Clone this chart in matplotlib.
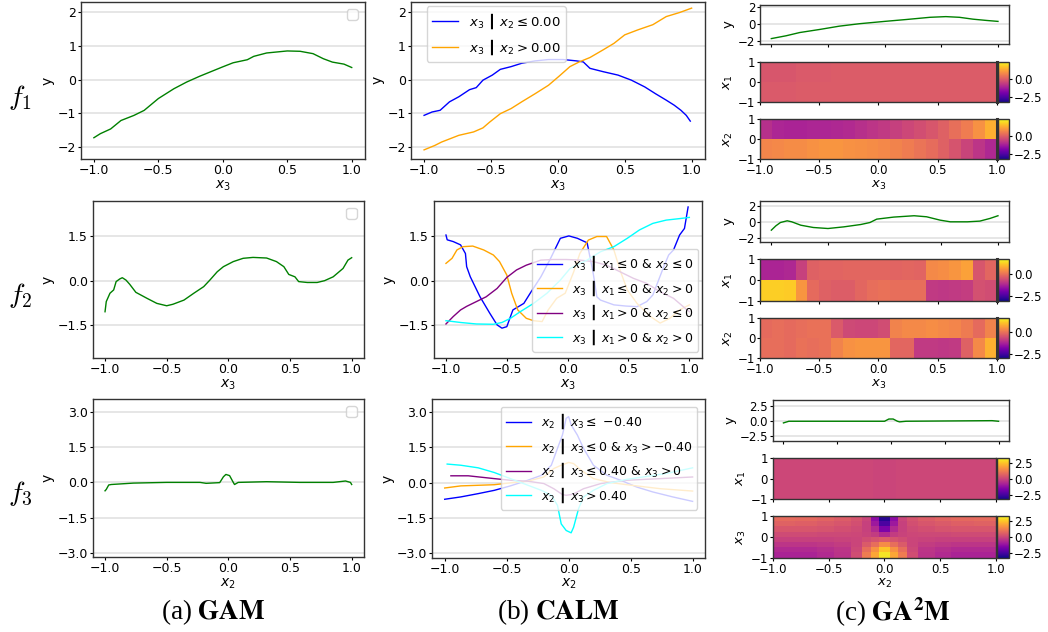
import numpy as np
import matplotlib.pyplot as plt

W, H = 1048, 632

# ---------------- row f1 (feature x3) ----------------
gam1_x = [-1.0, -0.95, -0.87, -0.79, -0.69, -0.61, -0.5, -0.38, -0.28, -0.18, 0.0, 0.08,
          0.19, 0.24, 0.34, 0.5, 0.6, 0.7, 0.78, 0.85, 0.94, 1.0]
gam1_y = [-1.72, -1.6, -1.46, -1.21, -1.06, -0.91, -0.56, -0.27, -0.07, 0.1, 0.38, 0.5,
          0.59, 0.69, 0.79, 0.85, 0.84, 0.77, 0.62, 0.52, 0.46, 0.36]

calm1_blue_x = [-1.0, -0.94, -0.88, -0.81, -0.74, -0.66, -0.61, -0.56, -0.49, -0.43, -0.35, -0.27,
                -0.17, -0.07, 0.04, 0.14, 0.19, 0.24, 0.34, 0.45, 0.55, 0.65, 0.73, 0.81, 0.87,
                0.92, 0.96, 0.99]
calm1_blue_y = [-1.06, -0.96, -0.91, -0.66, -0.51, -0.3, -0.24, -0.02, 0.13, 0.3, 0.38, 0.48,
                0.55, 0.59, 0.59, 0.55, 0.52, 0.33, 0.23, 0.13, -0.02, -0.22, -0.42, -0.61, -0.76,
                -0.91, -1.06, -1.23]
calm1_orange_x = [-1.0, -0.92, -0.87, -0.74, -0.63, -0.56, -0.51, -0.43, -0.35, -0.27, -0.17, -0.07,
                  0.01, 0.09, 0.16, 0.24, 0.34, 0.42, 0.5, 0.6, 0.71, 0.81, 0.91, 1.0]
calm1_orange_y = [-2.08, -1.95, -1.85, -1.65, -1.55, -1.43, -1.26, -1.01, -0.86, -0.66, -0.42, -0.17,
                  0.1, 0.38, 0.52, 0.65, 0.88, 1.07, 1.32, 1.47, 1.62, 1.86, 1.98, 2.11]

ga2m1_x = [-1.0, -0.87, -0.75, -0.57, -0.4, -0.22, 0.0, 0.19, 0.4, 0.54, 0.66, 0.78, 0.9, 1.0]
ga2m1_y = [-1.68, -1.35, -0.97, -0.6, -0.22, 0.07, 0.34, 0.56, 0.82, 0.9, 0.82, 0.6, 0.45, 0.34]

# heatmaps: rows from bottom (-1) to top (+1), 20 equal columns from -1 to 1
hm1_x1 = [[-0.05, -0.05, -0.05, 0.0, 0.0, 0.0, 0.0, 0.0, 0.0, 0.0,
           0.0, 0.0, 0.0, 0.0, 0.0, 0.0, 0.0, 0.0, 0.0, 0.0],
          [-0.1, -0.1, -0.1, -0.05, -0.05, -0.05, 0.0, 0.0, 0.0, 0.0,
           0.0, 0.0, 0.0, 0.0, 0.0, 0.0, 0.0, 0.0, 0.0, 0.0]]
hm1_x2 = [[0.75, 0.8, 0.85, 0.85, 0.95, 1.0, 1.0, 0.95, 0.9, 0.85,
           0.8, 0.7, 0.6, 0.45, 0.3, 0.1, -0.15, -0.45, -0.75, -1.0],
          [-0.85, -1.05, -1.1, -1.1, -1.05, -1.05, -1.0, -0.95, -0.85, -0.75,
           -0.65, -0.55, -0.4, -0.25, -0.1, 0.1, 0.35, 0.6, 0.95, 1.4]]

# ---------------- row f2 (feature x3) ----------------
gam2_x = [-1.0, -0.99, -0.96, -0.93, -0.91, -0.88, -0.86, -0.83, -0.8, -0.75, -0.66, -0.58,
          -0.5, -0.45, -0.36, -0.28, -0.2, -0.15, -0.09, -0.04, 0.04, 0.12, 0.2, 0.31, 0.39,
          0.45, 0.49, 0.54, 0.57, 0.64, 0.72, 0.78, 0.85, 0.93, 0.97, 1.0]
gam2_y = [-1.04, -0.7, -0.42, -0.31, -0.03, 0.06, 0.1, 0.02, -0.12, -0.39, -0.59, -0.76,
          -0.84, -0.79, -0.65, -0.42, -0.2, 0.02, 0.3, 0.47, 0.64, 0.75, 0.78, 0.76, 0.64,
          0.47, 0.21, 0.13, -0.03, -0.06, -0.06, 0.0, 0.13, 0.41, 0.69, 0.77]

calm2_blue_x = [-1.0, -0.99, -0.94, -0.88, -0.84, -0.83, -0.8, -0.72, -0.64, -0.58, -0.54, -0.5,
                -0.45, -0.36, -0.3, -0.22, -0.14, -0.06, 0.01, 0.08, 0.16, 0.21, 0.24, 0.27,
                0.38, 0.48, 0.57, 0.65, 0.7, 0.79, 0.83, 0.87, 0.92, 0.96, 0.99]
calm2_blue_y = [1.53, 1.37, 1.31, 1.2, 0.91, 0.47, 0.13, -0.54, -1.09, -1.48, -1.59, -1.54,
                -0.98, -0.76, -0.37, 0.13, 0.75, 1.42, 1.5, 1.42, 1.27, 0.25, -0.54, -0.65,
                -0.81, -0.85, -0.87, -0.7, -0.48, 0.47, 0.86, 1.03, 1.53, 1.75, 2.47]
calm2_orange_x = [-1.0, -0.95, -0.91, -0.86, -0.78, -0.69, -0.61, -0.56, -0.5, -0.46, -0.41, -0.34,
                  -0.28, -0.21, -0.16, -0.09, -0.02, 0.05, 0.1, 0.17, 0.24, 0.32, 0.38, 0.43,
                  0.49, 0.57, 0.68, 0.76, 0.84, 0.92, 1.0]
calm2_orange_y = [0.58, 0.75, 1.03, 1.14, 1.16, 1.03, 0.86, 0.64, 0.19, -0.42, -0.98, -1.26,
                  -1.34, -1.37, -0.98, -0.59, -0.42, 0.3, 0.91, 1.36, 1.48, 1.48, 1.03, 0.36,
                  -0.31, -0.76, -1.2, -1.42, -1.26, -0.98, -0.81]
calm2_purple_x = [-1.0, -0.94, -0.88, -0.83, -0.75, -0.67, -0.58, -0.5, -0.42, -0.34, -0.22, -0.12,
                  -0.01, 0.1, 0.21, 0.32, 0.43, 0.54, 0.65, 0.76, 0.87, 0.95, 1.0]
calm2_purple_y = [-1.45, -1.2, -0.98, -0.86, -0.7, -0.54, -0.26, 0.11, 0.36, 0.52, 0.69, 0.71,
                  0.71, 0.69, 0.64, 0.52, 0.3, 0.08, -0.09, -0.37, -0.59, -0.87, -1.04]
calm2_cyan_x = [-1.0, -0.88, -0.75, -0.61, -0.54, -0.47, -0.39, -0.28, -0.17, -0.06, 0.02, 0.16,
                0.27, 0.38, 0.49, 0.59, 0.7, 0.81, 0.92, 1.0]
calm2_cyan_y = [-1.34, -1.4, -1.45, -1.46, -1.4, -1.26, -1.04, -0.76, -0.42, 0.02, 0.41, 0.69,
                0.97, 1.14, 1.42, 1.7, 1.92, 2.03, 2.08, 2.12]

ga2m2_x = [-1.0, -0.96, -0.92, -0.86, -0.82, -0.74, -0.63, -0.5, -0.36, -0.21, -0.13, -0.07,
           0.08, 0.26, 0.37, 0.49, 0.58, 0.73, 0.84, 0.93, 1.0]
ga2m2_y = [-1.06, -0.51, -0.09, 0.13, 0.0, -0.43, -0.72, -0.85, -0.64, -0.34, -0.09, 0.34,
           0.6, 0.77, 0.64, 0.21, 0.0, 0.0, 0.09, 0.43, 0.77]

hm2_x1 = [[1.15, 1.15, 1.1, 0.45, -0.15, -0.3, -0.35, -0.35, -0.2, -0.1,
           -0.05, -0.1, -0.1, -0.1, -0.9, -0.95, -0.9, -0.85, -0.55, -0.6],
          [-1.25, -1.25, -1.2, -0.8, -0.3, -0.25, -0.25, -0.2, -0.2, -0.2,
           -0.2, -0.25, -0.2, -0.25, 0.3, 0.35, 0.45, 0.6, -0.45, -0.2]]
hm2_x2 = [[-0.1, -0.1, -0.15, -0.05, -0.1, -0.05, 0.2, 0.4, 0.45, 0.45,
           0.45, -0.2, -0.2, -0.9, -0.9, -0.95, -0.9, -0.3, 0.3, 0.8],
          [-0.15, -0.1, -0.15, -0.1, -0.05, -0.05, -0.4, -0.65, -0.7, -0.7,
           -0.6, 0.2, 0.3, 0.3, 0.35, 0.3, 0.25, 0.1, -0.15, 0.2]]

# ---------------- row f3 (feature x2) ----------------
gam3_x = [-1.0, -0.99, -0.97, -0.95, -0.77, -0.5, -0.23, -0.18, -0.07, -0.04, -0.02, 0.01,
          0.04, 0.05, 0.08, 0.31, 0.58, 0.85, 0.95, 0.99, 1.0]
gam3_y = [-0.36, -0.3, -0.11, -0.09, -0.03, 0.0, 0.0, -0.04, -0.01, 0.24, 0.34, 0.29,
          0.0, -0.09, 0.0, 0.03, 0.0, 0.0, 0.06, 0.0, -0.09]

calm3_blue_x = [-1.0, -0.87, -0.73, -0.6, -0.47, -0.33, -0.22, -0.14, -0.09, -0.05, -0.02, 0.0,
                0.02, 0.07, 0.12, 0.2, 0.31, 0.42, 0.55, 0.68, 0.84, 1.0]
calm3_blue_y = [-0.71, -0.61, -0.47, -0.33, -0.14, 0.1, 0.31, 0.74, 1.46, 2.03, 2.74, 2.81,
                2.46, 2.03, 1.46, 0.74, 0.31, 0.1, -0.19, -0.4, -0.61, -0.8]
calm3_orange_x = [-1.0, -0.87, -0.6, -0.47, -0.33, -0.2, -0.12, -0.06, 0.0, 0.04, 0.1, 0.2,
                  0.34, 0.47, 0.74, 1.0]
calm3_orange_y = [-0.23, -0.14, -0.09, -0.01, 0.06, 0.24, 0.6, 0.74, 0.86, 0.81, 0.53, 0.17,
                  0.0, -0.09, -0.26, -0.36]
calm3_purple_x = [-0.95, -0.81, -0.6, -0.47, -0.33, -0.2, -0.12, -0.05, -0.02, 0.02, 0.06, 0.12,
                  0.26, 0.47, 0.74, 1.0]
calm3_purple_y = [0.29, 0.29, 0.17, 0.1, 0.06, -0.04, -0.26, -0.51, -0.54, -0.51, -0.43, -0.26,
                  -0.04, 0.1, 0.17, 0.24]
calm3_cyan_x = [-0.98, -0.87, -0.73, -0.6, -0.47, -0.33, -0.22, -0.14, -0.09, -0.06, -0.02, 0.02,
                0.04, 0.08, 0.12, 0.2, 0.31, 0.47, 0.6, 0.79, 1.0]
calm3_cyan_y = [0.79, 0.74, 0.63, 0.43, 0.17, -0.11, -0.33, -0.54, -0.97, -1.76, -2.04, -2.14,
                -1.9, -1.11, -0.61, -0.33, -0.04, 0.14, 0.24, 0.39, 0.63]

ga2m3_x = [-1.0, -0.95, -0.53, -0.06, -0.02, 0.02, 0.06, 0.08, 0.14, 0.94, 1.0]
ga2m3_y = [-0.27, 0.0, 0.0, 0.0, 0.37, 0.37, 0.0, -0.1, 0.0, 0.1, 0.0]

hm3_x1 = [[0.05, 0.05, 0.05, 0.05, 0.05, 0.05, 0.05, 0.05, 0.05, 0.0,
           0.0, 0.05, 0.05, 0.05, 0.05, 0.05, 0.05, 0.05, 0.05, 0.05],
          [0.05, 0.05, 0.05, 0.05, 0.05, 0.05, 0.05, 0.05, 0.05, 0.0,
           0.0, 0.05, 0.05, 0.05, 0.05, 0.05, 0.05, 0.05, 0.05, 0.05]]
# x2 bin edges for the x2-x3 interaction (narrow bins around 0)
hm3_x3_xedges = [-1.0, -0.8, -0.6, -0.45, -0.3, -0.2, -0.12, -0.05, 0.05, 0.12, 0.2,
                 0.3, 0.45, 0.6, 0.8, 1.0]
hm3_x3 = [[-0.75, -0.75, -0.6, -0.4, 0.2, 1.2, 2.0, 3.0, 2.0, 1.2, 0.2, -0.4, -0.6, -0.75, -0.75],
          [-0.6, -0.6, -0.5, -0.35, 0.1, 0.9, 1.6, 2.5, 1.6, 0.9, 0.1, -0.35, -0.5, -0.6, -0.6],
          [-0.35, -0.35, -0.3, -0.2, 0.0, 0.5, 0.9, 1.5, 0.9, 0.5, 0.0, -0.2, -0.3, -0.35, -0.35],
          [-0.1, -0.1, -0.1, -0.05, 0.0, 0.2, 0.35, 0.5, 0.35, 0.2, 0.0, -0.05, -0.1, -0.1, -0.1],
          [0.15, 0.15, 0.1, 0.1, 0.05, -0.05, -0.2, -0.6, -0.2, -0.05, 0.05, 0.1, 0.1, 0.15, 0.15],
          [0.4, 0.4, 0.35, 0.25, 0.15, -0.1, -0.6, -1.6, -0.6, -0.1, 0.15, 0.25, 0.35, 0.4, 0.4],
          [0.65, 0.6, 0.5, 0.4, 0.25, -0.1, -1.0, -2.4, -1.0, -0.1, 0.25, 0.4, 0.5, 0.6, 0.65],
          [0.85, 0.8, 0.7, 0.55, 0.35, 0.0, -1.3, -2.9, -1.3, 0.0, 0.35, 0.55, 0.7, 0.8, 0.85]]

xticks = [-1.0, -0.5, 0.0, 0.5, 1.0]
ylims = [(-2.35, 2.3), (-2.6, 2.68), (-3.2, 3.55)]
yticks_main = [[-2, -1, 0, 1, 2], [-1.5, 0, 1.5], [-3, -1.5, 0, 1.5, 3]]
yticks_small = [[-2, 0, 2], [-2, 0, 2], [-2.5, 0, 2.5]]
feat = ['$x_3$', '$x_3$', '$x_2$']
cranges = [(-3.2, 2.4), (-3.0, 1.6), (-3.2, 3.3)]

plt.rcParams['axes.edgecolor'] = '#333333'
plt.rcParams['axes.linewidth'] = 1.0
plt.rcParams['xtick.major.size'] = 2
plt.rcParams['ytick.major.size'] = 2
plt.rcParams['xtick.major.pad'] = 1.5
plt.rcParams['ytick.major.pad'] = 1.5

fig = plt.figure(figsize=(W / 100, H / 100), dpi=100)


def px_axes(l, t, r, b):
    return fig.add_axes([l / W, 1 - b / H, (r - l) / W, (b - t) / H])


def line_axes(ax, row, fs=9, small=False):
    ax.set_xlim(-1.1, 1.1)
    ax.set_ylim(*ylims[row])
    ax.set_xticks(xticks)
    ax.set_yticks(yticks_small[row] if small else yticks_main[row])
    ax.grid(axis='y', color='#e2e2e2', lw=1.2)
    ax.set_axisbelow(True)
    ax.tick_params(labelsize=fs)


BAR = '\u2503'

# GAM column
gam_pos = [(81, 2, 364.6, 159), (92.7, 200.7, 364, 358.3), (92.7, 399.3, 364, 557.3)]
gam_data = [(gam1_x, gam1_y), (gam2_x, gam2_y), (gam3_x, gam3_y)]
for row in range(3):
    ax = px_axes(*gam_pos[row])
    ax.plot(*gam_data[row], color='green', lw=1)
    line_axes(ax, row)
    ax.set_xlabel(feat[row], fontsize=10, labelpad=1)
    ax.set_ylabel('y', fontsize=10, labelpad=2)
    ax.legend(handles=[], loc='upper right')

# CALM column
calm_pos = [(410.7, 1.7, 705, 159), (433.8, 200.7, 701.5, 358.3), (432.3, 399.3, 705, 557.7)]

ax = px_axes(*calm_pos[0])
ax.plot(calm1_blue_x, calm1_blue_y, color='blue', lw=1, label=r'$x_3$ ' + BAR + r' $x_2 \leq 0.00$')
ax.plot(calm1_orange_x, calm1_orange_y, color='orange', lw=1, label=r'$x_3$ ' + BAR + r' $x_2 > 0.00$')
line_axes(ax, 0)
ax.legend(loc='upper left', bbox_to_anchor=(0.054, 0.973), borderaxespad=0, fontsize=9.5)

ax = px_axes(*calm_pos[1])
ax.plot(calm2_blue_x, calm2_blue_y, color='blue', lw=1,
        label=r'$x_3$ ' + BAR + r' $x_1 \leq 0$ & $x_2 \leq 0$')
ax.plot(calm2_orange_x, calm2_orange_y, color='orange', lw=1,
        label=r'$x_3$ ' + BAR + r' $x_1 \leq 0$ & $x_2 > 0$')
ax.plot(calm2_purple_x, calm2_purple_y, color='purple', lw=1,
        label=r'$x_3$ ' + BAR + r' $x_1 > 0$ & $x_2 \leq 0$')
ax.plot(calm2_cyan_x, calm2_cyan_y, color='cyan', lw=1,
        label=r'$x_3$ ' + BAR + r' $x_1 > 0$ & $x_2 > 0$')
line_axes(ax, 1)
ax.legend(loc='lower right', bbox_to_anchor=(0.988, 0.042), borderaxespad=0, fontsize=9,
          labelspacing=0.4)

ax = px_axes(*calm_pos[2])
ax.plot(calm3_blue_x, calm3_blue_y, color='blue', lw=1,
        label=r'$x_2$ ' + BAR + r' $x_3 \leq$ $-0.40$')
ax.plot(calm3_orange_x, calm3_orange_y, color='orange', lw=1,
        label=r'$x_2$ ' + BAR + r' $x_3 \leq 0$ & $x_3 > -0.40$')
ax.plot(calm3_purple_x, calm3_purple_y, color='purple', lw=1,
        label=r'$x_2$ ' + BAR + r' $x_3 \leq 0.40$ & $x_3 > 0$')
ax.plot(calm3_cyan_x, calm3_cyan_y, color='cyan', lw=1,
        label=r'$x_2$ ' + BAR + r' $x_3 > 0.40$')
line_axes(ax, 2)
ax.legend(loc='upper right', bbox_to_anchor=(0.972, 0.953), borderaxespad=0, fontsize=9,
          labelspacing=0.4)

for row in range(3):
    ax = fig.axes[3 + row]
    ax.set_xlabel(feat[row], fontsize=10, labelpad=1)
    ax.set_ylabel('y', fontsize=10, labelpad=2)

# GA2M column
ga2m_lines = [(ga2m1_x, ga2m1_y), (ga2m2_x, ga2m2_y), (ga2m3_x, ga2m3_y)]
ga2m_maps = [(hm1_x1, hm1_x2), (hm2_x1, hm2_x2), (hm3_x1, hm3_x3)]
map_names = [('$x_1$', '$x_2$'), ('$x_1$', '$x_2$'), ('$x_1$', '$x_3$')]
ga2m_pos = [
    [(760, 4.7, 1009.3, 44.3), (760, 61.7, 996.7, 102.3), (760, 119.3, 996.7, 159.3)],
    [(760, 200.7, 1009.3, 242.3), (760, 259.3, 996.7, 300.7), (760, 317.7, 996.7, 358.3)],
    [(772.7, 399.7, 1009.3, 440.7), (772.7, 457.7, 996, 499.3), (772.7, 516, 996, 557.7)],
]
for row in range(3):
    p_line, p_h1, p_h2 = ga2m_pos[row]
    ax = px_axes(*p_line)
    ax.plot(*ga2m_lines[row], color='green', lw=1)
    line_axes(ax, row, fs=8.5, small=True)
    ax.set_xticklabels([])
    ax.set_ylabel('y', fontsize=9.5, labelpad=2)
    vmin, vmax = cranges[row]
    for k, pos in enumerate([p_h1, p_h2]):
        hx = px_axes(*pos)
        grid = np.array(ga2m_maps[row][k])
        if row == 2 and k == 1:
            xe = hm3_x3_xedges
        else:
            xe = np.linspace(-1, 1, grid.shape[1] + 1)
        ye = np.linspace(-1, 1, grid.shape[0] + 1)
        im = hx.pcolormesh(xe, ye, grid, cmap='plasma', vmin=vmin, vmax=vmax)
        hx.set_xlim(-1, 1)
        hx.set_ylim(-1, 1)
        hx.set_xticks(xticks)
        hx.set_yticks([-1, 0, 1])
        hx.tick_params(labelsize=8.5)
        hx.set_ylabel(map_names[row][k], fontsize=9.5, labelpad=2)
        if k == 0:
            hx.set_xticklabels([])
        else:
            hx.set_xlabel(feat[row], fontsize=9.5, labelpad=1)
        if row < 2:
            hx.spines['right'].set_linewidth(2.2)
        cax = px_axes(pos[2] + 1, pos[1], 1009.3, pos[3])
        cb = fig.colorbar(im, cax=cax)
        cb.set_ticks([t for t in [-2.5, 0.0, 2.5] if vmin <= t <= vmax])
        cb.ax.tick_params(labelsize=8.5)

# row labels and captions
for row, yy in enumerate([98, 295, 494]):
    fig.text(20 / W, 1 - yy / H, r'$f_%d$' % (row + 1), math_fontfamily='cm',
             fontsize=20, ha='center', va='center')

captions = [r'(a) $\mathbf{GAM}$', r'(b) $\mathbf{CALM}$', r'(c) $\mathbf{GA^2M}$']
for cx, txt in zip([213, 558, 893], captions):
    fig.text(cx / W, 1 - 612 / H, txt, family='Liberation Serif', math_fontfamily='stix',
             fontsize=19.5, ha='center', va='center')

fig.savefig('out.png', dpi=100)
